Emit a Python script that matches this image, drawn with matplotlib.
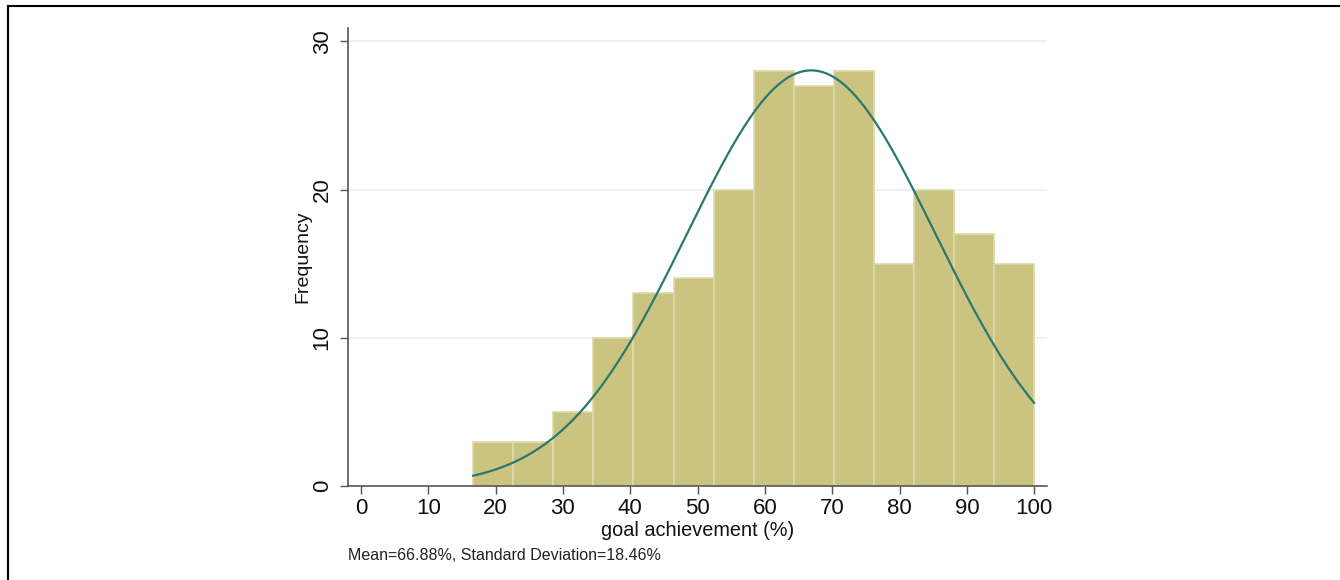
import numpy as np
import matplotlib.pyplot as plt
from matplotlib.lines import Line2D

plt.rcParams['font.family'] = ['Liberation Sans', 'DejaVu Sans']

# histogram data
bin_start = 16.67
bin_end = 100.0
counts = [3, 3, 5, 10, 13, 14, 20, 28, 27, 28, 15, 20, 17, 15]
mean_val = 66.88
sd_val = 18.46
x_ticks = [0, 10, 20, 30, 40, 50, 60, 70, 80, 90, 100]
y_ticks = [0, 10, 20, 30]

n_bins = len(counts)
edges = np.linspace(bin_start, bin_end, n_bins + 1)
width = edges[1] - edges[0]

fig = plt.figure(figsize=(13.4, 5.8), dpi=100)
ax = fig.add_axes([0.2597, 0.1621, 0.7813 - 0.2597, 0.9517 - 0.1621])

# grid
for yv in y_ticks[1:]:
    ax.axhline(yv, color='#e9f1f3', lw=1.3, zorder=0)

ax.bar(edges[:-1], counts, width=width, align='edge', color='#cac480',
       edgecolor='#dedaa8', linewidth=1.2, zorder=2)

# normal density curve
xs = np.linspace(bin_start, bin_end, 400)
scale = sum(counts) * width
ys = scale / (sd_val * np.sqrt(2 * np.pi)) * np.exp(-0.5 * ((xs - mean_val) / sd_val) ** 2)
ax.plot(xs, ys, color='#2a786f', lw=1.6, zorder=3)

ax.set_xlim(-1.93, 101.9)
ax.set_ylim(0, 30.9)
ax.set_xticks(x_ticks)
ax.set_yticks(y_ticks)
ax.set_yticklabels([str(v) for v in y_ticks], rotation=90, va='center')
ax.tick_params(axis='both', labelsize=16, direction='out', length=6,
               width=1, color='#555555', labelcolor='#111111')
ax.tick_params(axis='x', pad=3)
ax.tick_params(axis='y', pad=5)
for s in ['top', 'right']:
    ax.spines[s].set_visible(False)
for s in ['left', 'bottom']:
    ax.spines[s].set_color('#555555')
    ax.spines[s].set_linewidth(1.2)

ax.set_xlabel('goal achievement (%)', fontsize=14.3, color='#111111', labelpad=1)
ax.set_ylabel('Frequency', fontsize=14, color='#111111', labelpad=0)

fig.text(348 / 1340, 1 - 556 / 580, 'Mean=66.88%, Standard Deviation=18.46%',
         fontsize=11.5, color='#222222', ha='left', va='center')

# outer frame (left and top edges visible)
fig.add_artist(Line2D([7.5 / 1340, 7.5 / 1340], [0, 1 - 5.5 / 580],
                      transform=fig.transFigure, color='black', lw=1.5))
fig.add_artist(Line2D([7.5 / 1340, 1], [1 - 5.5 / 580, 1 - 5.5 / 580],
                      transform=fig.transFigure, color='black', lw=1.5))

fig.savefig('out.png', dpi=100)
